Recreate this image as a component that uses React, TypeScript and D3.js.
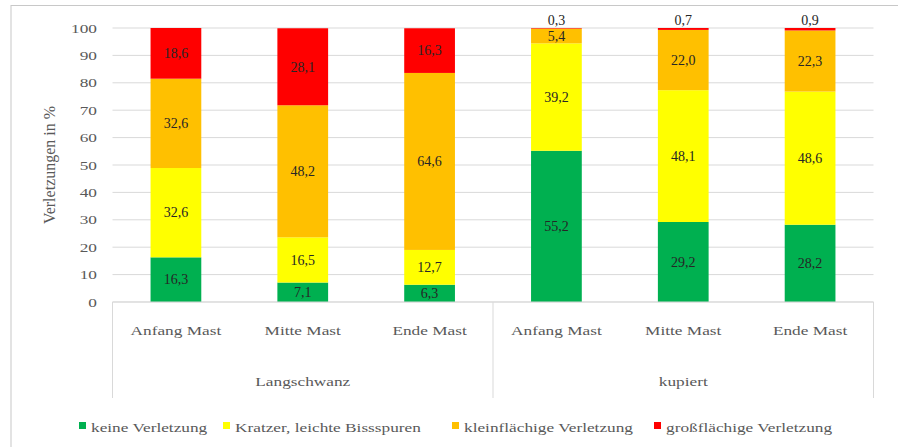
import React from "react";
import * as d3 from "d3";

// Stacked shares of injury classes per fattening stage (percent)
const categories = ["Anfang Mast", "Mitte Mast", "Ende Mast", "Anfang Mast", "Mitte Mast", "Ende Mast"];
const groups = ["Langschwanz", "kupiert"];
const groupSizes = [3, 3];
const keineVerletzung = [16.3, 7.1, 6.3, 55.2, 29.2, 28.2];
const kratzer = [32.6, 16.5, 12.7, 39.2, 48.1, 48.6];
const kleinflaechig = [32.6, 48.2, 64.6, 5.4, 22.0, 22.3];
const grossflaechig = [18.6, 28.1, 16.3, 0.3, 0.7, 0.9];
const seriesNames = [
  "keine Verletzung",
  "Kratzer, leichte Bissspuren",
  "kleinflächige Verletzung",
  "großflächige Verletzung",
];
const seriesColors = ["#00B050", "#FFFF00", "#FFC000", "#FF0000"];
const yTicks = [0, 10, 20, 30, 40, 50, 60, 70, 80, 90, 100];
const yTitle = "Verletzungen in %";

const W = 898;
const H = 447;
const plotLeft = 112.5;
const plotRight = 873.5;
const plotTop = 28;
const plotBottom = 302;
const FONT = "Liberation Serif, Tinos, DejaVu Serif, Times New Roman, serif";
const SX = 1.33; // horizontal stretch applied to axis and legend text
const fmt = (v: number) => v.toFixed(1).replace(".", ",");

export default function App() {
  const series = [keineVerletzung, kratzer, kleinflaechig, grossflaechig];
  const rows = categories.map((c, i) => {
    const r: Record<string, number> = { idx: i };
    seriesNames.forEach((n, k) => (r[n] = series[k][i]));
    return r;
  });
  const stacked = d3.stack<Record<string, number>>().keys(seriesNames)(rows);

  const x = d3
    .scaleBand<number>()
    .domain(categories.map((_, i) => i))
    .range([plotLeft, plotRight])
    .paddingInner(0.6)
    .paddingOuter(0.3);
  const y = d3.scaleLinear().domain([0, 100]).range([plotBottom, plotTop]);

  const groupEdge = (n: number) => plotLeft + (plotRight - plotLeft) * (n / categories.length);
  const legendStarts = [91, 235, 464, 666];
  const textStyle = { fontFamily: FONT };

  return (
    <svg width={W} height={H} style={{ position: "absolute", left: 0, top: 0, background: "#fff" }}>
      <rect x={11} y={5.5} width={W + 20} height={H + 20} fill="#fff" stroke="#c8c8c8" strokeWidth={1} />

      {/* gridlines */}
      {yTicks.map((t) => (
        <line key={"g" + t} x1={plotLeft} x2={plotRight} y1={y(t)} y2={y(t)} stroke="#d9d9d9" strokeWidth={1} />
      ))}

      {/* y tick labels */}
      {yTicks.map((t) => (
        <text
          key={"t" + t}
          transform={`translate(97,${y(t) + 4.5}) scale(${SX},1)`}
          textAnchor="end"
          style={textStyle}
          fontSize={13}
          fill="#595959"
        >
          {t}
        </text>
      ))}

      {/* y axis title */}
      <text
        transform={`translate(55,${(plotTop + plotBottom) / 2}) rotate(-90)`}
        textAnchor="middle"
        style={textStyle}
        fontSize={16}
        fill="#595959"
      >
        {yTitle}
      </text>

      {/* bars */}
      {stacked.map((layer, k) =>
        layer.map((d, i) => {
          const top = Math.min(d[1], 100);
          return (
            <rect
              key={`b${k}-${i}`}
              x={x(i)!}
              width={x.bandwidth()}
              y={y(top)}
              height={y(d[0]) - y(top)}
              fill={seriesColors[k]}
            />
          );
        })
      )}

      {/* value labels */}
      {stacked.map((layer, k) =>
        layer.map((d, i) => {
          const v = series[k][i];
          const cx = x(i)! + x.bandwidth() / 2;
          const small = v < 2;
          const cy = small ? plotTop - 8 : (y(d[0]) + y(Math.min(d[1], 100))) / 2;
          return (
            <text
              key={`v${k}-${i}`}
              x={cx}
              y={cy + 4.8}
              textAnchor="middle"
              style={textStyle}
              fontSize={14}
              fill="#262626"
            >
              {fmt(v)}
            </text>
          );
        })
      )}

      {/* category axis */}
      <line x1={plotLeft} x2={plotRight} y1={plotBottom} y2={plotBottom} stroke="#d9d9d9" strokeWidth={1} />
      {[0, 3, 6].map((n) => (
        <line
          key={"s" + n}
          x1={groupEdge(n)}
          x2={groupEdge(n)}
          y1={plotBottom}
          y2={398}
          stroke="#d9d9d9"
          strokeWidth={1}
        />
      ))}
      {categories.map((c, i) => (
        <text
          key={"c" + i}
          transform={`translate(${x(i)! + x.bandwidth() / 2},335) scale(${SX},1)`}
          textAnchor="middle"
          style={textStyle}
          fontSize={13}
          fill="#595959"
        >
          {c}
        </text>
      ))}
      {groups.map((g, gi) => {
        const start = groupSizes.slice(0, gi).reduce((a, b) => a + b, 0);
        const cx = (groupEdge(start) + groupEdge(start + groupSizes[gi])) / 2;
        return (
          <text
            key={"gr" + gi}
            transform={`translate(${cx},386) scale(${SX},1)`}
            textAnchor="middle"
            style={textStyle}
            fontSize={13}
            fill="#595959"
          >
            {g}
          </text>
        );
      })}

      {/* legend */}
      {seriesNames.map((n, k) => (
        <g key={"l" + k}>
          <rect x={legendStarts[k] - 12} y={422} width={7} height={7} fill={seriesColors[k]} />
          <text
            transform={`translate(${legendStarts[k]},432) scale(${SX},1)`}
            style={textStyle}
            fontSize={13}
            fill="#595959"
          >
            {n}
          </text>
        </g>
      ))}
    </svg>
  );
}
